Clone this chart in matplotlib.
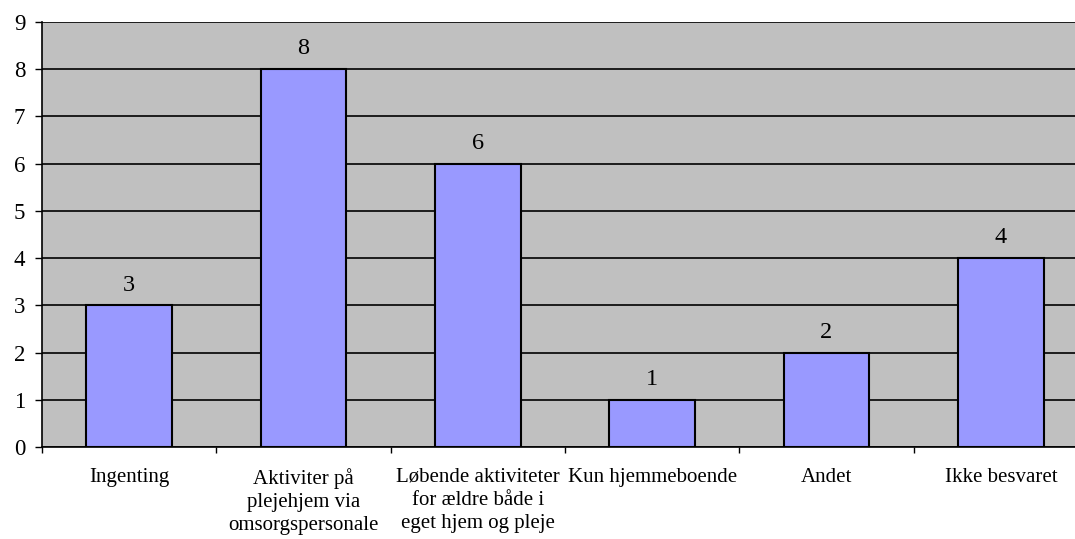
import matplotlib.pyplot as plt

plt.rcParams['font.family'] = ['Liberation Serif', 'DejaVu Serif']

kategorier = ['Ingenting',
              'Aktiviter på\nplejehjem via\nomsorgspersonale',
              'Løbende aktiviteter\nfor ældre både i\neget hjem og pleje',
              'Kun hjemmeboende',
              'Andet',
              'Ikke besvaret']
antal = [3, 8, 6, 1, 2, 4]

fig = plt.figure(figsize=(10.75, 5.39), dpi=100)
# plotomraadet gaar lidt ud over hoejre kant, som i originalen
ax = fig.add_axes([42/1075, 92/539, 1046/1075, 425/539])
ax.set_facecolor('#C0C0C0')

x = range(len(antal))
ax.bar(x, antal, width=0.49, color='#9999FF', edgecolor='black', linewidth=1.5, zorder=3)

for i, v in enumerate(antal):
    ax.annotate(str(v), (i, v), xytext=(0, 7), textcoords='offset points',
                ha='center', va='bottom', fontsize=17.5)

ax.set_xlim(-0.5, len(antal) - 0.5)
ax.set_ylim(0, 9)
ax.set_yticks(range(0, 10))
ax.tick_params(axis='y', length=5, width=1, pad=7, labelsize=16.5)

ax.set_xticks([i - 0.5 for i in range(len(antal) + 1)])
ax.set_xticklabels([])
ax.tick_params(axis='x', which='major', length=4, width=1, direction='out')
ax.set_xticks(list(x), minor=True)
ax.set_xticklabels(kategorier, minor=True, fontsize=15, linespacing=1.3)
ax.tick_params(axis='x', which='minor', length=0, pad=15)

ax.grid(axis='y', color='black', linewidth=1.2, zorder=1)
ax.set_axisbelow(True)
for s in ['top', 'right']:
    ax.spines[s].set_visible(False)
ax.spines['left'].set_linewidth(1.2)
ax.spines['bottom'].set_linewidth(1.2)

fig.savefig('out.png', dpi=100)
